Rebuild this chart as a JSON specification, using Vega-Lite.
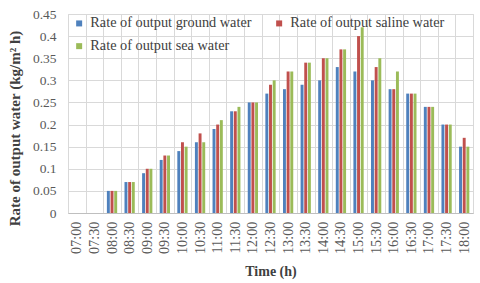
{
  "$schema": "https://vega.github.io/schema/vega-lite/v6.json",
  "width": 480,
  "height": 283,
  "autosize": {"type": "fit", "contains": "padding"},
  "padding": {"left": 7, "top": 7, "right": 7, "bottom": 4},
  "background": "white",
  "data": {
    "values": [
      {"t":"07:00","s":"Rate of output ground water","v":0},
      {"t":"07:00","s":"Rate of output saline water","v":0},
      {"t":"07:00","s":"Rate of output sea water","v":0},
      {"t":"07:30","s":"Rate of output ground water","v":0},
      {"t":"07:30","s":"Rate of output saline water","v":0},
      {"t":"07:30","s":"Rate of output sea water","v":0},
      {"t":"08:00","s":"Rate of output ground water","v":0.05},
      {"t":"08:00","s":"Rate of output saline water","v":0.05},
      {"t":"08:00","s":"Rate of output sea water","v":0.05},
      {"t":"08:30","s":"Rate of output ground water","v":0.07},
      {"t":"08:30","s":"Rate of output saline water","v":0.07},
      {"t":"08:30","s":"Rate of output sea water","v":0.07},
      {"t":"09:00","s":"Rate of output ground water","v":0.09},
      {"t":"09:00","s":"Rate of output saline water","v":0.10},
      {"t":"09:00","s":"Rate of output sea water","v":0.10},
      {"t":"09:30","s":"Rate of output ground water","v":0.12},
      {"t":"09:30","s":"Rate of output saline water","v":0.13},
      {"t":"09:30","s":"Rate of output sea water","v":0.13},
      {"t":"10:00","s":"Rate of output ground water","v":0.14},
      {"t":"10:00","s":"Rate of output saline water","v":0.16},
      {"t":"10:00","s":"Rate of output sea water","v":0.15},
      {"t":"10:30","s":"Rate of output ground water","v":0.16},
      {"t":"10:30","s":"Rate of output saline water","v":0.18},
      {"t":"10:30","s":"Rate of output sea water","v":0.16},
      {"t":"11:00","s":"Rate of output ground water","v":0.19},
      {"t":"11:00","s":"Rate of output saline water","v":0.20},
      {"t":"11:00","s":"Rate of output sea water","v":0.21},
      {"t":"11:30","s":"Rate of output ground water","v":0.23},
      {"t":"11:30","s":"Rate of output saline water","v":0.23},
      {"t":"11:30","s":"Rate of output sea water","v":0.24},
      {"t":"12:00","s":"Rate of output ground water","v":0.25},
      {"t":"12:00","s":"Rate of output saline water","v":0.25},
      {"t":"12:00","s":"Rate of output sea water","v":0.25},
      {"t":"12:30","s":"Rate of output ground water","v":0.27},
      {"t":"12:30","s":"Rate of output saline water","v":0.29},
      {"t":"12:30","s":"Rate of output sea water","v":0.30},
      {"t":"13:00","s":"Rate of output ground water","v":0.28},
      {"t":"13:00","s":"Rate of output saline water","v":0.32},
      {"t":"13:00","s":"Rate of output sea water","v":0.32},
      {"t":"13:30","s":"Rate of output ground water","v":0.29},
      {"t":"13:30","s":"Rate of output saline water","v":0.34},
      {"t":"13:30","s":"Rate of output sea water","v":0.34},
      {"t":"14:00","s":"Rate of output ground water","v":0.30},
      {"t":"14:00","s":"Rate of output saline water","v":0.35},
      {"t":"14:00","s":"Rate of output sea water","v":0.35},
      {"t":"14:30","s":"Rate of output ground water","v":0.33},
      {"t":"14:30","s":"Rate of output saline water","v":0.37},
      {"t":"14:30","s":"Rate of output sea water","v":0.37},
      {"t":"15:00","s":"Rate of output ground water","v":0.32},
      {"t":"15:00","s":"Rate of output saline water","v":0.40},
      {"t":"15:00","s":"Rate of output sea water","v":0.42},
      {"t":"15:30","s":"Rate of output ground water","v":0.30},
      {"t":"15:30","s":"Rate of output saline water","v":0.33},
      {"t":"15:30","s":"Rate of output sea water","v":0.35},
      {"t":"16:00","s":"Rate of output ground water","v":0.28},
      {"t":"16:00","s":"Rate of output saline water","v":0.28},
      {"t":"16:00","s":"Rate of output sea water","v":0.32},
      {"t":"16:30","s":"Rate of output ground water","v":0.27},
      {"t":"16:30","s":"Rate of output saline water","v":0.27},
      {"t":"16:30","s":"Rate of output sea water","v":0.27},
      {"t":"17:00","s":"Rate of output ground water","v":0.24},
      {"t":"17:00","s":"Rate of output saline water","v":0.24},
      {"t":"17:00","s":"Rate of output sea water","v":0.24},
      {"t":"17:30","s":"Rate of output ground water","v":0.20},
      {"t":"17:30","s":"Rate of output saline water","v":0.20},
      {"t":"17:30","s":"Rate of output sea water","v":0.20},
      {"t":"18:00","s":"Rate of output ground water","v":0.15},
      {"t":"18:00","s":"Rate of output saline water","v":0.17},
      {"t":"18:00","s":"Rate of output sea water","v":0.15}
    ]
  },
  "mark": {"type": "bar"},
  "encoding": {
    "x": {
      "field": "t", "type": "nominal", "sort": null,
      "scale": {"paddingInner": 0, "paddingOuter": 0},
      "axis": {
        "title": "Time (h)", "labelAngle": -90, "tickBand": "extent",
        "ticks": false, "grid": true, "gridColor": "#D9D9D9",
        "domainColor": "#BFBFBF", "labelPadding": 8, "titlePadding": 11,
        "labelFontSize": 14.3, "titleFontSize": 14
      }
    },
    "xOffset": {
      "field": "s", "type": "nominal",
      "scale": {"paddingInner": 0.2, "paddingOuter": 1.05}
    },
    "y": {
      "field": "v", "type": "quantitative",
      "scale": {"domain": [0, 0.45]},
      "axis": {
        "title": "Rate of output water (kg/m² h)",
        "values": [0,0.05,0.1,0.15,0.2,0.25,0.3,0.35,0.4,0.45],
        "format": ".2~f", "domain": false, "ticks": false,
        "gridColor": "#D9D9D9", "labelPadding": 12, "titlePadding": 10,
        "labelFontSize": 13.5, "titleFontSize": 15, "titleY": 114
      }
    },
    "color": {
      "field": "s", "type": "nominal",
      "scale": {
        "domain": ["Rate of output ground water","Rate of output saline water","Rate of output sea water"],
        "range": ["#4F81BD","#C0504D","#9BBB59"]
      },
      "legend": {
        "title": null, "orient": "none", "legendX": 4, "legendY": 2,
        "values": ["Rate of output ground water","Rate of output sea water","Rate of output saline water"],
        "columns": 2, "columnPadding": 20, "rowPadding": 8,
        "symbolType": "square", "symbolSize": 36, "symbolStrokeWidth": 0,
        "labelFontSize": 14.3, "labelFont": "Liberation Serif", "labelColor": "#404040",
        "labelOffset": 4, "labelLimit": 400
      }
    }
  },
  "config": {
    "view": {"stroke": "#D9D9D9"},
    "axis": {
      "labelFont": "Liberation Serif", "titleFont": "Liberation Serif",
      "labelColor": "#595959",
      "titleColor": "#404040", "titleFontWeight": "bold"
    }
  }
}
